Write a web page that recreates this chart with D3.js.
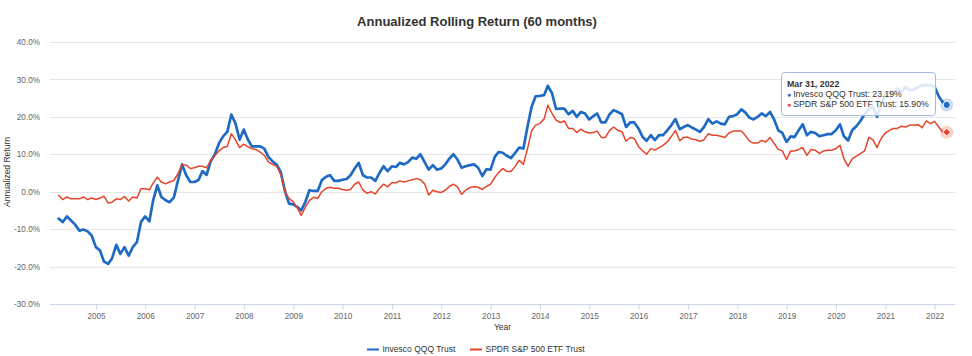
<!DOCTYPE html>
<html>
<head>
<meta charset="utf-8">
<script src="https://cdn.jsdelivr.net/npm/d3@7/dist/d3.min.js"></script>
<style>
  html, body { margin: 0; padding: 0; background: #fff; }
  svg { display: block; font-family: "Liberation Sans", Arial, sans-serif; }
</style>
</head>
<body>
<svg id="chart" width="972" height="356"></svg>
<script>
// ---------------- DATA ----------------
const seriesNames = ["Invesco QQQ Trust", "SPDR S&P 500 ETF Trust"];
const startMonth = [2004, 3]; // first month-end: Mar 31, 2004 (monthly through Mar 31, 2022)

const qqq = [
  -7.2, -8.1, -6.6, -7.7, -8.8, -10.4, -10.1, -10.6, -11.7, -14.8, -15.7, -18.6,
  -19.3, -17.8, -14.2, -16.6, -14.8, -17.1, -14.8, -13.5, -8.1, -6.6, -7.9, -2.3,
  1.7, -1.4, -2.3, -2.8, -1.6, 3.0, 7.3, 4.4, 2.6, 2.6, 3.2, 5.5,
  4.5, 8.1, 10.0, 12.9, 14.8, 16.0, 20.6, 18.2, 13.9, 16.6, 13.9, 12.1,
  12.1, 12.1, 11.5, 9.3, 8.1, 7.2, 5.2, 0.2, -3.2, -3.4, -4.1,
  -5.0, -2.7, 0.4, 0.2, 0.2, 3.1, 4.0, 4.4, 2.9, 2.9, 3.2, 3.4,
  4.4, 6.2, 7.7, 4.4, 3.8, 3.8, 2.9, 5.0, 6.8, 5.5, 6.8, 6.6,
  7.7, 7.3, 7.9, 9.1, 8.8, 10.0, 7.9, 5.9, 7.1, 5.9, 6.2, 7.3,
  8.8, 10.0, 8.6, 6.4, 6.8, 7.1, 7.3, 6.4, 4.2, 6.0, 5.9, 9.3,
  10.6, 10.4, 9.6, 9.0, 10.3, 11.8, 11.5, 17.3, 22.7, 25.5, 25.6, 25.8,
  28.3, 26.3, 22.1, 22.2, 22.2, 20.7, 21.6, 20.0, 21.3, 20.9, 19.3, 20.2,
  20.9, 18.5, 18.5, 20.7, 21.8, 21.3, 20.7, 17.3, 18.5, 18.5, 16.9, 14.6,
  13.6, 15.1, 13.8, 15.1, 15.1, 16.4, 17.8, 19.4, 16.7, 17.3, 17.8, 17.1,
  16.6, 16.0, 17.3, 19.4, 18.2, 18.8, 18.2, 18.0, 20.0, 20.2, 20.7, 22.0,
  21.2, 19.8, 19.3, 20.0, 20.9, 20.2, 21.3, 19.3, 16.4, 15.7, 13.3, 14.8,
  14.6, 16.4, 18.0, 15.1, 16.0, 15.7, 14.8, 15.1, 15.4, 15.4, 16.4, 18.0,
  14.8, 13.7, 16.4, 17.5, 18.9, 20.7, 22.0, 22.7, 20.0, 23.6, 25.8, 26.7,
  26.4, 27.6, 26.7, 28.0, 27.1, 27.3, 28.0, 28.5, 28.5, 28.5, 28.0, 25.5,
  24.0, 23.19
];

const spy = [
  -1.0, -2.1, -1.4, -1.9, -1.9, -1.9, -1.4, -2.1, -1.7, -2.1, -1.7, -1.2,
  -3.0, -2.8, -1.9, -2.1, -1.3, -2.5, -1.4, -1.7, 0.8, 0.8, 0.5, 2.3,
  3.9, 2.6, 2.1, 2.6, 3.0, 4.8, 7.3, 7.1, 6.2, 6.4, 6.8, 6.8,
  6.4, 8.4, 9.7, 10.9, 11.8, 12.1, 15.5, 13.8, 11.8, 12.7, 12.0, 11.5,
  11.3, 10.6, 9.7, 8.0, 7.3, 6.8, 4.6, -0.1, -1.8, -2.7, -4.4,
  -6.3, -4.1, -2.3, -1.5, -1.8, 0.0, 0.9, 1.2, 0.9, 0.9, 0.6, 0.4,
  0.6, 2.0, 2.6, 0.4, -0.4, 0.0, -0.6, 0.9, 2.0, 1.3, 2.4, 2.4,
  2.9, 2.6, 2.9, 3.2, 3.5, 3.2, 2.1, -0.9, 0.4, 0.0, -0.2, 0.4,
  1.4, 2.0, 1.3, -0.7, 0.4, 1.1, 1.3, 1.2, 0.6, 1.4, 2.0, 3.8,
  5.1, 6.2, 5.5, 5.4, 6.7, 8.4, 7.3, 11.4, 16.3, 17.8, 18.2, 19.4,
  23.1, 20.9, 19.1, 18.5, 18.9, 16.9, 16.9, 15.8, 16.7, 16.0, 15.7, 15.8,
  16.2, 14.5, 14.5, 16.4, 17.3, 16.4, 16.0, 13.5, 14.5, 14.2, 12.1, 10.9,
  10.0, 11.5, 11.1, 11.8, 12.4, 13.3, 14.8, 16.4, 13.6, 14.5, 14.6, 14.0,
  13.9, 13.5, 13.9, 15.5, 15.1, 15.1, 14.8, 14.5, 15.7, 16.2, 16.2, 16.2,
  15.1, 13.5, 13.0, 13.0, 13.7, 13.3, 14.5, 12.9, 11.3, 10.9, 8.6, 10.9,
  10.9, 11.3, 11.8, 9.7, 11.3, 11.1, 10.2, 10.9, 11.1, 11.1, 11.5, 12.4,
  8.8, 6.8, 8.8, 9.5, 10.2, 10.9, 14.5, 13.9, 11.8, 14.2, 15.7, 16.4,
  16.9, 16.9, 17.5, 17.3, 17.8, 17.8, 17.9, 17.1, 18.9, 18.2, 18.8, 17.3,
  16.0, 15.90
];

const yTicks = [-30, -20, -10, 0, 10, 20, 30, 40];
const xTickYears = [2005, 2006, 2007, 2008, 2009, 2010, 2011, 2012, 2013, 2014, 2015, 2016, 2017, 2018, 2019, 2020, 2021, 2022];

// ---------------- LAYOUT ----------------
const colors = ["#1f6bc4", "#e5452a"];
const plot = { left: 50, right: 955, top: 42, bottom: 304 };
const svg = d3.select("#chart");

// month-end dates
const dates = qqq.map((_, i) => new Date(startMonth[0], startMonth[1] - 1 + i + 1, 0));

const x = d3.scaleTime()
  .domain([new Date(2005, 0, 1), new Date(2022, 0, 1)])
  .range([96, 934.7]);
const y = d3.scaleLinear().domain([-30, 40]).range([plot.bottom, plot.top]);

// gridlines
svg.append("g").selectAll("line").data(yTicks.filter(d => d !== -30)).join("line")
  .attr("x1", plot.left).attr("x2", plot.right)
  .attr("y1", d => Math.round(y(d)) + 0.5).attr("y2", d => Math.round(y(d)) + 0.5)
  .attr("stroke", "#e6e6e6").attr("stroke-width", 1);

// y-axis labels
const yAxis = d3.axisLeft(y).tickValues(yTicks).tickFormat(d => d.toFixed(1) + "%").tickSize(0).tickPadding(10);
const gy = svg.append("g").attr("transform", `translate(${plot.left},0)`).call(yAxis);
gy.select(".domain").remove();
gy.selectAll("text").attr("fill", "#666").style("font-size", "8.2px").attr("font-family", null);

// x axis
const xAxis = d3.axisBottom(x)
  .tickValues(xTickYears.map(yr => new Date(yr, 0, 1)))
  .tickFormat(d3.timeFormat("%Y")).tickSizeInner(5).tickSizeOuter(0).tickPadding(4);
const gx = svg.append("g").attr("transform", `translate(0,${plot.bottom + 0.5})`).call(xAxis);
gx.select(".domain").remove();
gx.selectAll("line").attr("stroke", "#ccd6eb");
gx.selectAll("text").attr("fill", "#666").style("font-size", "8.2px").attr("font-family", null);
svg.append("line")
  .attr("x1", plot.left).attr("x2", plot.right)
  .attr("y1", plot.bottom + 0.5).attr("y2", plot.bottom + 0.5)
  .attr("stroke", "#ccd6eb").attr("stroke-width", 1);

// axis titles
svg.append("text").attr("x", 502.5).attr("y", 330).attr("text-anchor", "middle")
  .attr("fill", "#333").style("font-size", "8.5px").text("Year");
svg.append("text").attr("transform", "translate(10,172) rotate(-90)").attr("text-anchor", "middle")
  .attr("fill", "#333").style("font-size", "8.5px").text("Annualized Return");

// title
svg.append("text").attr("x", 477).attr("y", 26).attr("text-anchor", "middle")
  .attr("fill", "#333").style("font-size", "13px").style("font-weight", "bold")
  .text("Annualized Rolling Return (60 months)");

// lines
const series = [qqq, spy];
const widths = [2.7, 1.5];
const line = d3.line().x((d, i) => x(dates[i])).y(d => y(d));
series.forEach((s, k) => {
  svg.append("path").datum(s).attr("d", line)
    .attr("fill", "none").attr("stroke", colors[k]).attr("stroke-width", widths[k])
    .attr("stroke-linejoin", "round").attr("stroke-linecap", "round");
});

// hover markers at last point
const last = qqq.length - 1;
const lx = x(dates[last]);
series.forEach((s, k) => {
  const ly = y(s[last]);
  svg.append("circle").attr("cx", lx).attr("cy", ly).attr("r", 6.5)
    .attr("fill", colors[k]).attr("opacity", 0.25);
  if (k === 0) {
    svg.append("circle").attr("cx", lx).attr("cy", ly).attr("r", 3.6)
      .attr("fill", colors[k]).attr("stroke", "#fff").attr("stroke-width", 1);
  } else {
    svg.append("path").attr("transform", `translate(${lx},${ly})`)
      .attr("d", d3.symbol(d3.symbolDiamond2, 40)())
      .attr("fill", colors[k]).attr("stroke", "#fff").attr("stroke-width", 1);
  }
});

// tooltip
const tip = svg.append("g").attr("transform", "translate(781,72)");
tip.append("rect").attr("x", 0.5).attr("y", 0.5).attr("width", 154).attr("height", 43).attr("rx", 3)
  .attr("fill", "#fff").attr("fill-opacity", 0.85).attr("stroke", "#9dbae0").attr("stroke-width", 1);
tip.append("text").attr("x", 6).attr("y", 14.5).attr("fill", "#333")
  .style("font-size", "8.8px").style("font-weight", "bold")
  .text(d3.timeFormat("%b %d, %Y")(dates[last]));
series.forEach((s, k) => {
  const t = tip.append("text").attr("x", 6).attr("y", 25 + k * 10).attr("fill", "#333").style("font-size", "8.7px");
  t.append("tspan").attr("fill", colors[k]).style("font-size", "7px").text("\u25CF ");
  t.append("tspan").text(`${seriesNames[k]}: ${s[last].toFixed(2)}%`);
});

// legend
const legendX = [367, 470];
seriesNames.forEach((name, k) => {
  const g = svg.append("g").attr("transform", `translate(${legendX[k]},349)`);
  g.append("line").attr("x1", 0).attr("x2", 12).attr("y1", 0.5).attr("y2", 0.5)
    .attr("stroke", colors[k]).attr("stroke-width", 2);
  g.append("text").attr("x", 15.5).attr("y", 3).attr("fill", "#333")
    .style("font-size", "8.5px").text(name);
});
</script>
</body>
</html>
